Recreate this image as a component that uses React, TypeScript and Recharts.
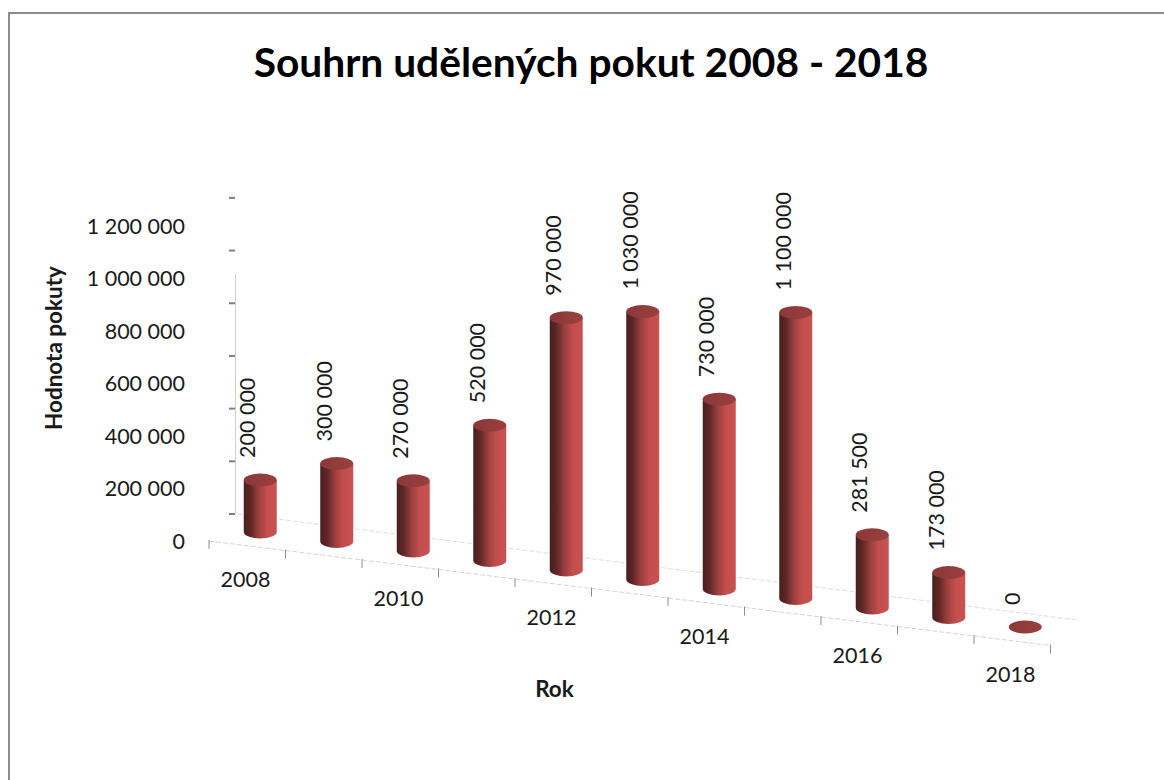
import React from "react";
import { BarChart, Bar, XAxis, YAxis, LabelList } from "recharts";

const years = ["2008", "2009", "2010", "2011", "2012", "2013", "2014", "2015", "2016", "2017", "2018"];
const fines = [200000, 300000, 270000, 520000, 970000, 1030000, 730000, 1100000, 281500, 173000, 0];
const yTicks = [0, 200000, 400000, 600000, 800000, 1000000, 1200000];

const rows = years.map((year, i) => ({ year, fine: fines[i] }));

const W = 1164;
const H = 780;
const PLOT_LEFT = 221.75;
const PLOT_RIGHT = 1063.25;
const PLOT_TOP = 216;
const PLOT_BOTTOM = 532;
const BAND = (PLOT_RIGHT - PLOT_LEFT) / years.length;
const SLANT = 9.5;
const BACK_SLANT = 9.65;
const RY = 6.5;
const FONT = "Lato, Carlito, sans-serif";
const fmt = (v: number) => String(v).replace(/\B(?=(\d{3})+$)/g, "\u00a0");

function Cylinder(props: any) {
  const { x, y, width, height, index } = props;
  const dy = index * SLANT;
  const rx = width / 2;
  const top = y + dy;
  const bottom = y + height + dy;
  const cx = x + rx;
  const backX = cx - 23;
  const backY = 514 + index * BACK_SLANT;
  return (
    <g>
      <line x1={backX} y1={backY} x2={backX + BAND} y2={backY + BACK_SLANT} stroke="#dedede" strokeWidth={1} strokeDasharray="5 2" />
      {height > 0 && (
        <path
          d={`M${x},${top} L${x},${bottom} A${rx},${RY} 0 0 0 ${x + width},${bottom} L${x + width},${top} Z`}
          fill="url(#cylSide)"
        />
      )}
      <ellipse cx={cx} cy={top} rx={rx} ry={RY} fill="url(#cylTop)" />
    </g>
  );
}

function ValueLabel(props: any) {
  const { x, y, width, value, index } = props;
  const cx = x + width / 2 - 13;
  const yy = y + index * SLANT - 22;
  return (
    <text
      transform={`translate(${cx},${yy}) rotate(-90)`}
      textAnchor="start"
      dominantBaseline="central"
      fontFamily={FONT}
      fontSize={21.5}
      fill="#1a1a1a"
    >
      {fmt(Number(value))}
    </text>
  );
}

function YTick(props: any) {
  const { y, payload, index } = props;
  const markY = y - 18 - index * 0.67;
  const textY = y + 9 - index * 0.5;
  return (
    <g>
      {index === 0 && <line x1={235.5} x2={235.5} y1={markY} y2={markY - 240} stroke="#cfcfcf" strokeWidth={1} />}
      <line x1={229} x2={235} y1={markY} y2={markY} stroke="#7f7f7f" strokeWidth={2} />
      <text x={185} y={textY} textAnchor="end" dominantBaseline="central" fontFamily={FONT} fontSize={21.5} fill="#1a1a1a">
        {fmt(Number(payload.value))}
      </text>
    </g>
  );
}

function XTick(props: any) {
  const { x, payload, index } = props;
  const left = x - BAND / 2 - 12.75;
  const frontY = 541 + index * SLANT;
  const isLast = index === years.length - 1;
  return (
    <g>
      <line x1={left} y1={frontY} x2={left + BAND} y2={frontY + SLANT} stroke="#d4d4d4" strokeWidth={1} strokeDasharray="5 2" />
      <line x1={left} y1={frontY - 1} x2={left} y2={frontY + 8} stroke="#8c8c8c" strokeWidth={1} />
      {isLast && (
        <line x1={left + BAND} y1={frontY + SLANT - 1} x2={left + BAND} y2={frontY + SLANT + 8} stroke="#8c8c8c" strokeWidth={1} />
      )}
      {index % 2 === 0 && (
        <text x={x - 14.5} y={579 + index * SLANT} textAnchor="middle" dominantBaseline="central" fontFamily={FONT} fontSize={21.5} fill="#1a1a1a">
          {payload.value}
        </text>
      )}
    </g>
  );
}

export default function App() {
  return (
    <div style={{ position: "absolute", left: 0, top: 0, width: W, height: H, background: "#fff", overflow: "hidden" }}>
      <div
        style={{
          position: "absolute",
          left: 8,
          top: 12,
          right: 0,
          bottom: 0,
          borderLeft: "2px solid #8c8c8c",
          borderTop: "2px solid #8c8c8c",
        }}
      />
      <div style={{ position: "absolute", left: 0, top: 0 }}>
        <BarChart
          width={W}
          height={H}
          data={rows}
          margin={{ left: 0, right: W - PLOT_RIGHT, top: PLOT_TOP, bottom: 0 }}
          barCategoryGap={0}
        >
          <defs>
            <linearGradient id="cylSide" x1="0" x2="1" y1="0" y2="0">
              <stop offset="0" stopColor="#4a1e1e" />
              <stop offset="0.2" stopColor="#5e2626" />
              <stop offset="0.45" stopColor="#9c3f3f" />
              <stop offset="0.7" stopColor="#c44e4e" />
              <stop offset="1" stopColor="#c75252" />
            </linearGradient>
            <linearGradient id="cylTop" x1="0" x2="1" y1="0" y2="0">
              <stop offset="0" stopColor="#8a3838" />
              <stop offset="1" stopColor="#9a4040" />
            </linearGradient>
          </defs>
          <text x={591} y={61} textAnchor="middle" dominantBaseline="central" fontFamily={FONT} fontWeight={700} fontSize={40.7} fill="#000">
            Souhrn udělených pokut 2008 - 2018
          </text>
          <XAxis
            dataKey="year"
            interval={0}
            axisLine={false}
            tickLine={false}
            height={H - PLOT_BOTTOM}
            tick={XTick}
            label={{
              value: "Rok",
              position: "insideBottom",
              dx: -88,
              offset: 83,
              style: { fontFamily: FONT, fontWeight: 700, fontSize: 22.5, fill: "#1a1a1a" },
            }}
          />
          <YAxis
            type="number"
            domain={[0, 1215000]}
            ticks={yTicks}
            axisLine={false}
            tickLine={false}
            width={PLOT_LEFT}
            tick={YTick}
            label={{
              value: "Hodnota pokuty",
              angle: -90,
              position: "insideLeft",
              dx: 49,
              dy: -26,
              style: { fontFamily: FONT, fontWeight: 700, fontSize: 22.5, fill: "#1a1a1a", textAnchor: "middle" },
            }}
          />
          <Bar dataKey="fine" barSize={33} isAnimationActive={false} shape={Cylinder}>
            <LabelList dataKey="fine" content={ValueLabel} />
          </Bar>
        </BarChart>
      </div>
    </div>
  );
}
